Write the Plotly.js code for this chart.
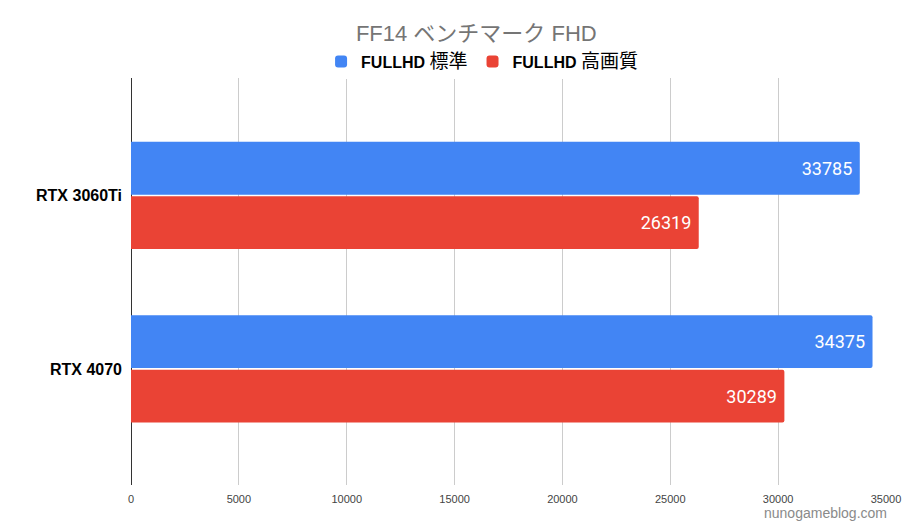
<!DOCTYPE html>
<html>
<head>
<meta charset="utf-8">
<script src="https://cdn.plot.ly/plotly-3.0.1.min.js"></script>
<style>
  body { margin: 0; background: #fff; }
  #chart { width: 916px; height: 524px; }
</style>
</head>
<body>
<div id="chart"></div>
<script>
// ---- data ----
const gpus = ["RTX 3060Ti", "RTX 4070"];
const fhdStandard = [33785, 34375];
const fhdHigh = [26319, 30289];
const seriesNames = ["FULLHD 標準", "FULLHD 高画質"];
const xTicks = [0, 5000, 10000, 15000, 20000, 25000, 30000, 35000];

// legend: latin part bold, the kanji a touch larger (like the original)
const legendName = s => {
  const [latin, kanji] = s.split(" ");
  return "<b>" + latin + "</b> <span style='font-size:19px'>" + kanji + "</span>";
};

// labels sit a few px in from the bar end, so pad with a no-break space
const labelFont = { family: "Roboto, 'Noto Sans CJK JP', sans-serif", size: 18, color: "#ffffff" };
const asLabel = v => v + "\u00a0";

const standardTrace = {
  type: "bar",
  orientation: "h",
  y: gpus,
  x: fhdStandard,
  name: legendName(seriesNames[0]),
  marker: { color: "#4285f4", cornerradius: 2 },
  text: fhdStandard.map(asLabel),
  textposition: "inside",
  insidetextanchor: "end",
  textfont: labelFont,
  hoverinfo: "x+name"
};

const highTrace = {
  type: "bar",
  orientation: "h",
  y: gpus,
  x: fhdHigh,
  name: legendName(seriesNames[1]),
  marker: { color: "#ea4335", cornerradius: 2 },
  text: fhdHigh.map(asLabel),
  textposition: "inside",
  insidetextanchor: "end",
  textfont: labelFont,
  hoverinfo: "x+name"
};

const layout = {
  width: 916,
  height: 524,
  margin: { l: 131, r: 30, t: 78, b: 39 },
  paper_bgcolor: "#ffffff",
  plot_bgcolor: "#ffffff",
  barmode: "group",
  bargap: 0.372,
  bargroupgap: 0.03,
  title: {
    text: "FF14 ベンチマーク FHD",
    font: { family: "'Liberation Sans', 'Noto Sans CJK JP', sans-serif", size: 22, color: "#757575" },
    x: 0.52,
    xanchor: "center",
    y: 0.936,
    yanchor: "middle"
  },
  legend: {
    orientation: "h",
    x: 0.465,
    xanchor: "center",
    y: 1.04,
    yanchor: "middle",
    font: { family: "'Liberation Sans', 'Noto Sans CJK JP', sans-serif", size: 16, color: "#000000" },
    itemwidth: 30,
    traceorder: "normal"
  },
  xaxis: {
    range: [0, 35000],
    tickvals: xTicks,
    ticktext: xTicks.map(String),
    showgrid: true,
    gridcolor: "#cccccc",
    gridwidth: 1,
    zeroline: true,
    zerolinecolor: "#333333",
    zerolinewidth: 1,
    showline: false,
    ticks: "",
    ticklabelstandoff: 6,
    tickfont: { family: "'Liberation Sans', Arial, sans-serif", size: 11, color: "#444444" },
    fixedrange: true
  },
  yaxis: {
    type: "category",
    range: [1.669, -0.677],
    showgrid: false,
    zeroline: false,
    showline: false,
    ticks: "",
    ticklabelstandoff: 8,
    tickfont: { family: "'Liberation Sans', Arial, sans-serif", size: 16, color: "#000000", weight: "bold" },
    fixedrange: true
  },
  annotations: [{
    text: "nunogameblog.com",
    xref: "paper",
    yref: "paper",
    x: 1.004,
    xanchor: "right",
    y: -0.068,
    yanchor: "middle",
    showarrow: false,
    font: { family: "'Liberation Sans', Arial, sans-serif", size: 14, color: "#8a8a8a" }
  }]
};

Plotly.newPlot("chart", [standardTrace, highTrace], layout, { displayModeBar: false, staticPlot: true });
</script>
</body>
</html>
